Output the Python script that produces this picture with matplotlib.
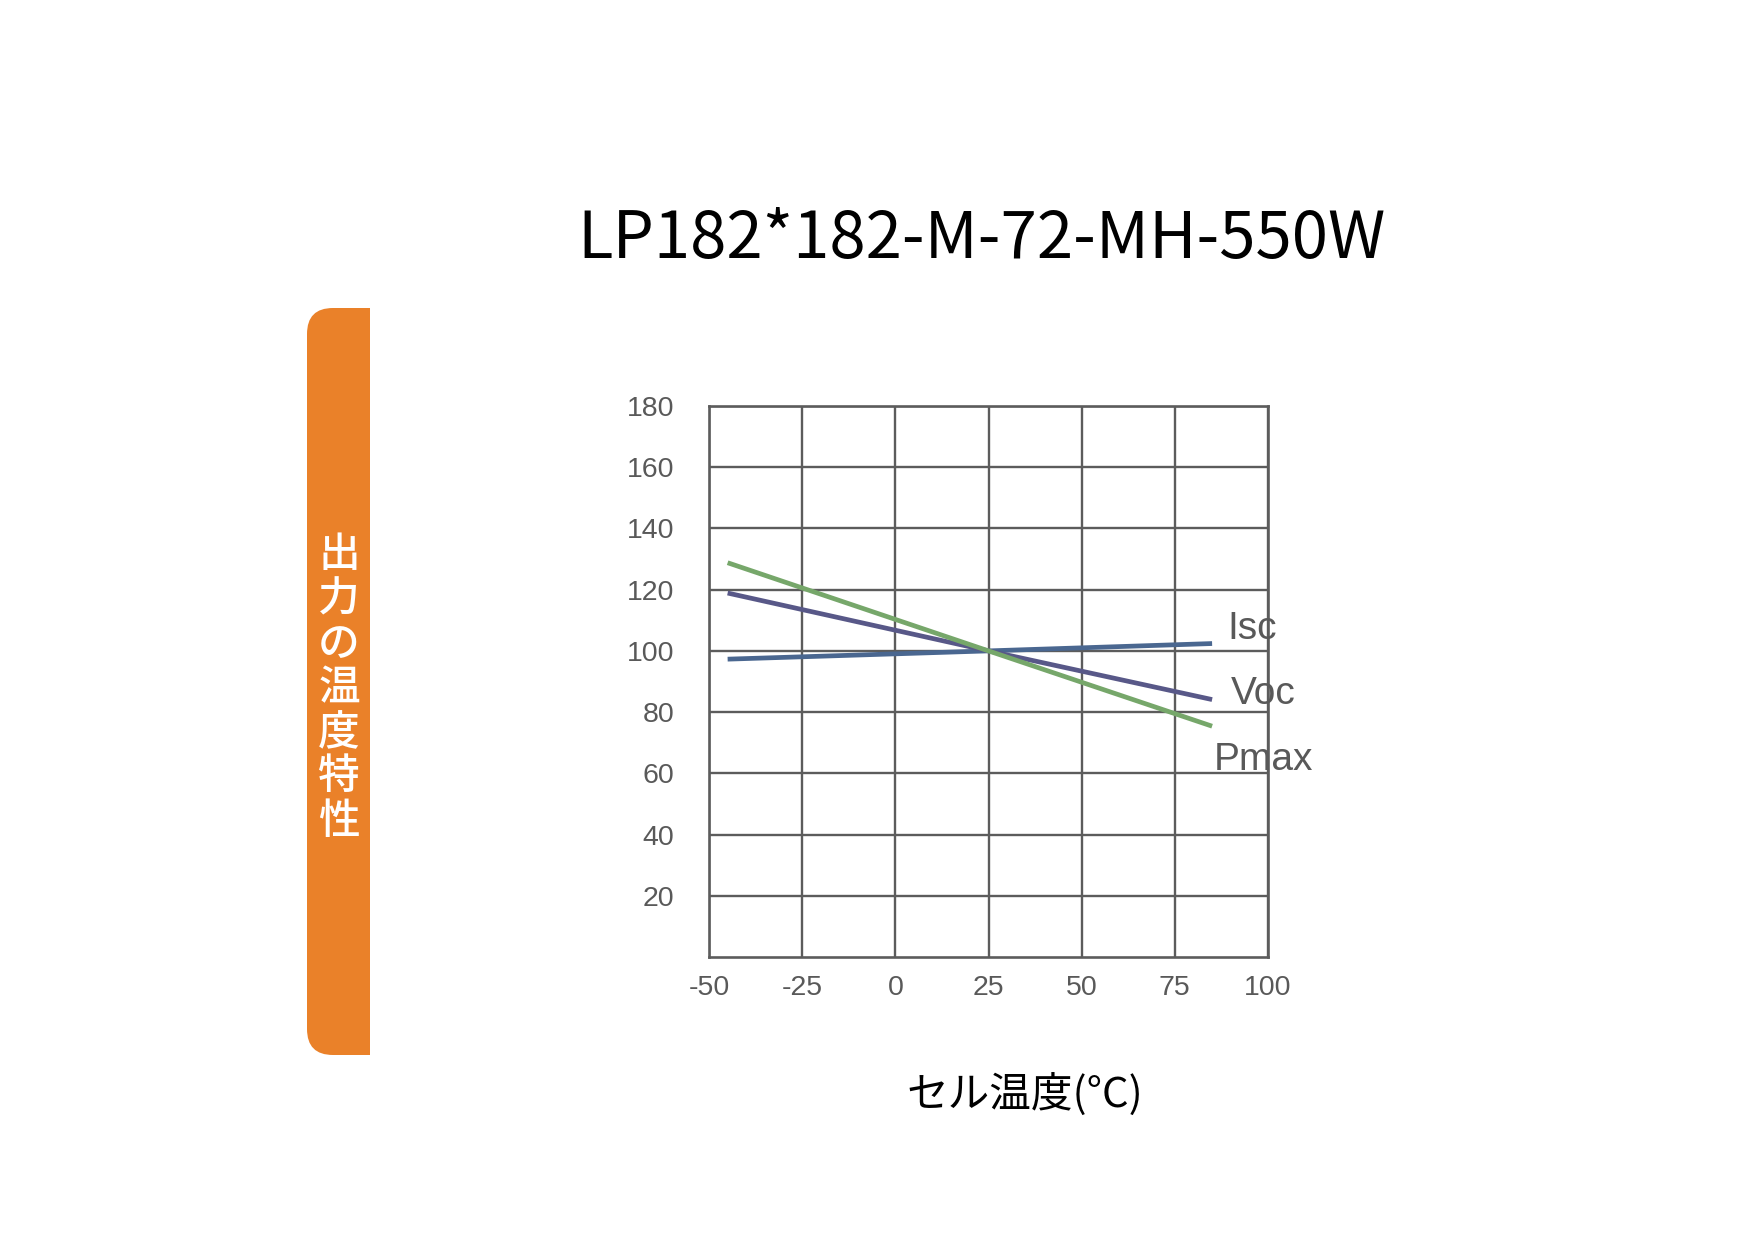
#!/usr/bin/env python3
# -*- coding: utf-8 -*-

"""
Temperature characteristics of the LP182*182-M-72-MH-550W module
"""

import matplotlib
matplotlib.use("Agg")
import matplotlib.pyplot as plt
from matplotlib.patches import FancyBboxPatch, Rectangle

plt.rcParams['axes.unicode_minus'] = False

# data: relative values (%) against cell temperature
temps = [-45, 25, 85]
isc = [97.3, 100, 102.4]
voc = [118.9, 100, 84.1]
pmax = [128.8, 100, 75.4]

series_names = ['Isc', 'Voc', 'Pmax']
x_ticks = [-50, -25, 0, 25, 50, 75, 100]
y_ticks = [20, 40, 60, 80, 100, 120, 140, 160, 180]

title = 'LP182*182-M-72-MH-550W'
side_label = '出力の温度特性'
x_label = 'セル温度(°C)'

# colours
grid_col = '#5c5c5c'
text_col = '#595959'
orange = '#EA8129'
col_isc = '#4A6790'
col_voc = '#585888'
col_pmax = '#76A76A'

W, H = 1754, 1240
fig = plt.figure(figsize=(W / 100, H / 100), dpi=100)

# background layer in pixel units for the orange tab
bg = fig.add_axes([0, 0, 1, 1])
bg.set_xlim(0, W)
bg.set_ylim(H, 0)
bg.axis('off')
tab = FancyBboxPatch((307, 308), 63, 747, boxstyle='round,pad=0,rounding_size=26',
                     facecolor=orange, edgecolor='none')
bg.add_patch(tab)
bg.add_patch(Rectangle((340, 308), 30, 747, facecolor=orange, edgecolor='none'))
bg.text(339, 688, '\n'.join(side_label), color='white', fontsize=30,
        family=['Noto Sans CJK JP', 'DejaVu Sans'], ha='center', va='center',
        linespacing=1.04, weight='medium')

fig.text(0.5595, 1 - 240 / H, title, fontsize=47, ha='center', va='center',
         family=['Noto Sans CJK JP', 'DejaVu Sans'], color='black')
fig.text(1025 / W, 1 - 1095 / H, x_label, fontsize=30, ha='center', va='center',
         family=['Noto Sans CJK JP', 'DejaVu Sans'], color='black')

# main chart
ax = fig.add_axes([709 / W, 1 - 957 / H, (1268 - 709) / W, (957 - 406) / H])
ax.set_xlim(-50, 100)
ax.set_ylim(0, 180)
ax.set_xticks(x_ticks)
ax.set_yticks(y_ticks)
ax.grid(True, color=grid_col, linewidth=1.7)
ax.set_axisbelow(True)
for s in ax.spines.values():
    s.set_color(grid_col)
    s.set_linewidth(1.9)
ax.tick_params(length=0, labelsize=20.5, labelcolor=text_col)
ax.tick_params(axis='x', pad=13)
ax.tick_params(axis='y', pad=25)
for lab in ax.get_xticklabels() + ax.get_yticklabels():
    lab.set_family('Liberation Sans')

ax.plot(temps, isc, color=col_isc, linewidth=3.4, solid_capstyle='butt')
ax.plot(temps, voc, color=col_voc, linewidth=3.4, solid_capstyle='butt')
ax.plot(temps, pmax, color=col_pmax, linewidth=3.4, solid_capstyle='butt')

# series labels at the right end of the lines
label_pos = [(89.0, 107), (90.0, 86), (85.5, 64.5)]
for name, (lx, ly) in zip(series_names, label_pos):
    ax.text(lx, ly, name, fontsize=28, color=text_col, family='Liberation Sans',
            ha='left', va='center', clip_on=False)

plt.savefig('out.png', dpi=100)
